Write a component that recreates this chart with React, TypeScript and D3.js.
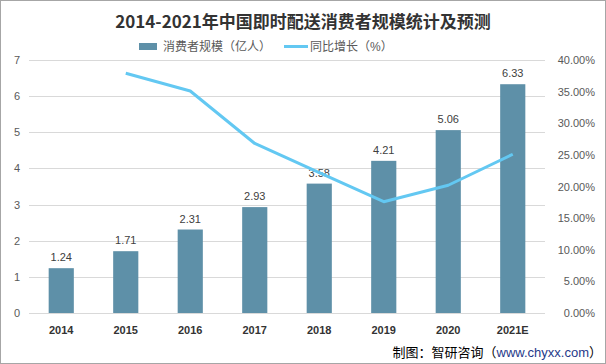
import * as React from "react";
import { useRef, useEffect } from "react";
import * as d3 from "d3";

const years = ["2014", "2015", "2016", "2017", "2018", "2019", "2020", "2021E"];
const users = [1.24, 1.71, 2.31, 2.93, 3.58, 4.21, 5.06, 6.33];
const growth = [null, 37.9, 35.1, 26.8, 22.2, 17.6, 20.2, 25.1];
const leftTicks = [0, 1, 2, 3, 4, 5, 6, 7];
const rightTicks = [0, 5, 10, 15, 20, 25, 30, 35, 40];

const W = 606;
const H = 364;
const FONT = "'Liberation Sans', 'Noto Sans CJK SC', sans-serif";

const Chart = () => {
  const svgRef = useRef<SVGSVGElement>(null);

  useEffect(() => {
    const svg = d3.select(svgRef.current);
    svg.selectAll("*").remove();

    const margin = { top: 60, right: 61, bottom: 51, left: 29 };
    const width = W - margin.left - margin.right;
    const height = H - margin.top - margin.bottom;

    svg.append("rect").attr("x", 0.5).attr("y", 0.5).attr("width", W - 1).attr("height", H - 1)
      .attr("fill", "#fff").attr("stroke", "#a6a6a6");

    // title
    svg.append("text").attr("x", W / 2).attr("y", 28).attr("text-anchor", "middle")
      .attr("font-size", 17).attr("font-weight", "bold").attr("fill", "#333")
      .attr("font-family", "'Noto Sans CJK SC', sans-serif")
      .text("2014-2021年中国即时配送消费者规模统计及预测");

    // legend
    const lg = svg.append("g").attr("font-family", FONT).attr("font-size", 12).attr("fill", "#595959");
    lg.append("rect").attr("x", 139).attr("y", 43).attr("width", 18).attr("height", 7).attr("fill", "#5e90a8");
    lg.append("text").attr("x", 163).attr("y", 51).attr("fill", "#595959").text("消费者规模（亿人）");
    lg.append("line").attr("x1", 284).attr("x2", 308).attr("y1", 46.5).attr("y2", 46.5)
      .attr("stroke", "#63c8f2").attr("stroke-width", 3);
    lg.append("text").attr("x", 310).attr("y", 51).attr("fill", "#595959").text("同比增长（%）");

    const g = svg.append("g").attr("transform", `translate(${margin.left},${margin.top})`);

    const x = d3.scaleBand().domain(years).range([0, width]).paddingInner(0.61).paddingOuter(0.305);
    const y = d3.scaleLinear().domain([0, 7]).range([height, 0]);
    const y2 = d3.scaleLinear().domain([0, 40]).range([height, 0]);

    // grid
    g.selectAll("line.grid").data(leftTicks).enter().append("line")
      .attr("x1", 0).attr("x2", width)
      .attr("y1", (d) => Math.round(y(d)) + 0.5).attr("y2", (d) => Math.round(y(d)) + 0.5)
      .attr("stroke", "#d9d9d9").attr("stroke-width", 1);

    // left axis labels
    g.selectAll("text.yl").data(leftTicks).enter().append("text")
      .attr("x", -12).attr("y", (d) => y(d) + 4).attr("text-anchor", "middle")
      .attr("font-family", FONT).attr("font-size", 11).attr("fill", "#595959").text((d) => d);

    // right axis labels
    g.selectAll("text.yr").data(rightTicks).enter().append("text")
      .attr("x", width + 50).attr("y", (d) => y2(d) + 4).attr("text-anchor", "end")
      .attr("font-family", FONT).attr("font-size", 11).attr("fill", "#595959")
      .text((d) => d.toFixed(2) + "%");

    // bars
    g.selectAll("rect.bar").data(users).enter().append("rect")
      .attr("x", (_, i) => x(years[i])!).attr("y", (d) => y(d))
      .attr("width", x.bandwidth()).attr("height", (d) => height - y(d))
      .attr("fill", "#5e90a8");

    // bar labels
    g.selectAll("text.bl").data(users).enter().append("text")
      .attr("x", (_, i) => x(years[i])! + x.bandwidth() / 2).attr("y", (d) => y(d) - 7)
      .attr("text-anchor", "middle").attr("font-family", FONT).attr("font-size", 11)
      .attr("fill", "#404040").text((d) => d.toFixed(2));

    // x labels
    g.selectAll("text.xl").data(years).enter().append("text")
      .attr("x", (d) => x(d)! + x.bandwidth() / 2).attr("y", height + 21)
      .attr("text-anchor", "middle").attr("font-family", FONT).attr("font-size", 11)
      .attr("font-weight", "bold").attr("fill", "#333").text((d) => d);

    // growth line
    const pts = growth.map((v, i) => ({ v, k: years[i] })).filter((d) => d.v !== null);
    const line = d3.line<{ v: number | null; k: string }>()
      .x((d) => x(d.k)! + x.bandwidth() / 2)
      .y((d) => y2(d.v as number));
    g.append("path").datum(pts).attr("d", line).attr("fill", "none")
      .attr("stroke", "#63c8f2").attr("stroke-width", 3).attr("stroke-linejoin", "round");

    // footer
    const ft = svg.append("text").attr("x", 602).attr("y", 357).attr("text-anchor", "end")
      .attr("font-family", FONT).attr("font-size", 13).attr("fill", "#000");
    ft.append("tspan").text("制图：智研咨询（");
    ft.append("tspan").attr("fill", "#1f3a8a").text("www.chyxx.com");
    ft.append("tspan").text("）");
  }, []);

  return <svg ref={svgRef} width={W} height={H} style={{ position: "absolute", left: 0, top: 0 }}></svg>;
};

export default function App() {
  return <Chart />;
}
